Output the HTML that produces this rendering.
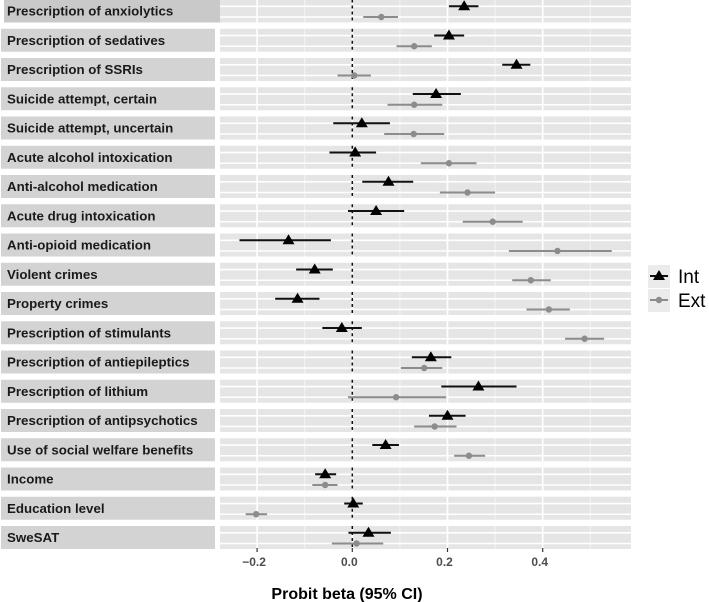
<!DOCTYPE html>
<html><head><meta charset="utf-8"><style>
html,body{margin:0;padding:0;background:#fff;width:709px;height:602px;overflow:hidden}
svg text{font-family:"Liberation Sans",Arial,sans-serif}
</style></head><body>
<svg id="chart" width="709" height="602" viewBox="0 0 709 602" xmlns="http://www.w3.org/2000/svg"></svg>
<script>
const categories=["Prescription of anxiolytics","Prescription of sedatives","Prescription of SSRIs","Suicide attempt, certain","Suicide attempt, uncertain","Acute alcohol intoxication","Anti-alcohol medication","Acute drug intoxication","Anti-opioid medication","Violent crimes","Property crimes","Prescription of stimulants","Prescription of antiepileptics","Prescription of lithium","Prescription of antipsychotics","Use of social welfare benefits","Income","Education level","SweSAT"];
const intEst=[0.235,0.203,0.345,0.176,0.020,0.006,0.076,0.050,-0.134,-0.079,-0.115,-0.022,0.165,0.265,0.200,0.070,-0.057,0.002,0.034];
const intLo=[0.203,0.172,0.315,0.127,-0.040,-0.048,0.021,-0.009,-0.237,-0.118,-0.162,-0.063,0.125,0.187,0.161,0.042,-0.078,-0.017,-0.008];
const intHi=[0.265,0.235,0.374,0.228,0.079,0.050,0.128,0.109,-0.045,-0.041,-0.069,0.020,0.208,0.345,0.238,0.098,-0.034,0.022,0.081];
const extEst=[0.061,0.130,0.004,0.130,0.129,0.203,0.242,0.295,0.431,0.375,0.413,0.488,0.151,0.092,0.173,0.245,-0.057,-0.202,0.009];
const extLo=[0.023,0.093,-0.031,0.074,0.067,0.144,0.184,0.232,0.329,0.336,0.366,0.447,0.102,-0.009,0.130,0.214,-0.084,-0.224,-0.043];
const extHi=[0.096,0.167,0.039,0.189,0.193,0.261,0.300,0.358,0.545,0.417,0.457,0.529,0.189,0.197,0.219,0.279,-0.031,-0.179,0.065];
const majorTicks=[-0.2,0,0.2,0.4];
const tickLabels=["\u22120.2","0.0","0.2","0.4"];
const minorTicks=[-0.1,0.1,0.3,0.5];

const NS="http://www.w3.org/2000/svg";
const svg=document.getElementById('chart');
const PL=220,PR=631,ZERO=352.3,UNIT=476;
const x=v=>ZERO+v*UNIT;
const rowTop=i=>i*29.25-0.5;
const RH=23;
const yInt=i=>rowTop(i)+6.8;
const yExt=i=>rowTop(i)+17.5;
function mk(tag,attrs,parent){const e=document.createElementNS(NS,tag);for(const k in attrs)e.setAttribute(k,attrs[k]);(parent||svg).appendChild(e);return e;}

categories.forEach((c,i)=>{
  const g=mk('g',{});
  
  
  const t=rowTop(i);
  const strip=mk('rect',{x:i===0?4:1,y:t,width:i===0?216:214,height:RH,fill:i===0?'#c9c9c9':'#d3d3d3'},g);
  
  
  const lab=mk('text',{x:7,y:t+16,'font-size':'13.3','font-weight':'bold',fill:'#1a1a1a'},g);
  lab.textContent=c;
  
  
  const p=mk('rect',{x:PL,y:t,width:PR-PL,height:RH,fill:'#e5e5e5'},g);
  
  
  minorTicks.forEach(v=>mk('line',{x1:x(v),x2:x(v),y1:t,y2:t+RH,stroke:'#f4f4f4','stroke-width':1},g));
  majorTicks.forEach(v=>mk('line',{x1:x(v),x2:x(v),y1:t,y2:t+RH,stroke:'#fff','stroke-width':1.6},g));
  [yInt(i),yExt(i)].forEach(yy=>mk('line',{x1:PL,x2:PR,y1:yy,y2:yy,stroke:'#fff','stroke-width':1.6},g));
  mk('line',{x1:x(0),x2:x(0),y1:t,y2:t+RH,stroke:'#111','stroke-width':1.5,'stroke-dasharray':'3,3'},g);
  const el=mk('line',{x1:x(extLo[i]),x2:x(extHi[i]),y1:yExt(i),y2:yExt(i),stroke:'#8c8c8c','stroke-width':2},g);
  
  
  const ep=mk('circle',{cx:x(extEst[i]),cy:yExt(i),r:3.2,fill:'#8c8c8c'},g);
  
  
  const il=mk('line',{x1:x(intLo[i]),x2:x(intHi[i]),y1:yInt(i),y2:yInt(i),stroke:'#111','stroke-width':2},g);
  
  
  const cx=x(intEst[i]),cy=yInt(i);
  const ip=mk('polygon',{points:`${cx-6},${cy+4} ${cx+6},${cy+4} ${cx},${cy-6}`,fill:'#000'},g);
  
  
});

const ax=mk('g',{});


majorTicks.forEach((v,k)=>{
  mk('line',{x1:x(v),x2:x(v),y1:548,y2:552,stroke:'#333','stroke-width':1.2},ax);
  const t=mk('text',{x:x(v)-3,y:566,'font-size':'12','font-weight':'bold',fill:'#4d4d4d','text-anchor':'middle'},ax);
  t.textContent=tickLabels[k];
  
  
});
const xt=mk('text',{x:347,y:599,'font-size':'16','font-weight':'bold',fill:'#000','text-anchor':'middle'});
xt.textContent='Probit beta (95% CI)';



const lg=mk('g',{});


const e1=mk('g',{},lg);


mk('rect',{x:648,y:265,width:22,height:23,fill:'#ebebeb'},e1);
mk('line',{x1:650,x2:668,y1:276,y2:276,stroke:'#111','stroke-width':2},e1);
mk('polygon',{points:'653,280 665,280 659,270',fill:'#000'},e1);
const t1=mk('text',{x:678,y:283,'font-size':'19',fill:'#000'},e1);t1.textContent='Int';
const e2=mk('g',{},lg);


mk('rect',{x:648,y:289,width:22,height:23,fill:'#ebebeb'},e2);
mk('line',{x1:650,x2:668,y1:300,y2:300,stroke:'#8c8c8c','stroke-width':2},e2);
mk('circle',{cx:659,cy:300,r:3.2,fill:'#8c8c8c'},e2);
const t2=mk('text',{x:678,y:307,'font-size':'19',fill:'#000'},e2);t2.textContent='Ext';
</script>
</body></html>
